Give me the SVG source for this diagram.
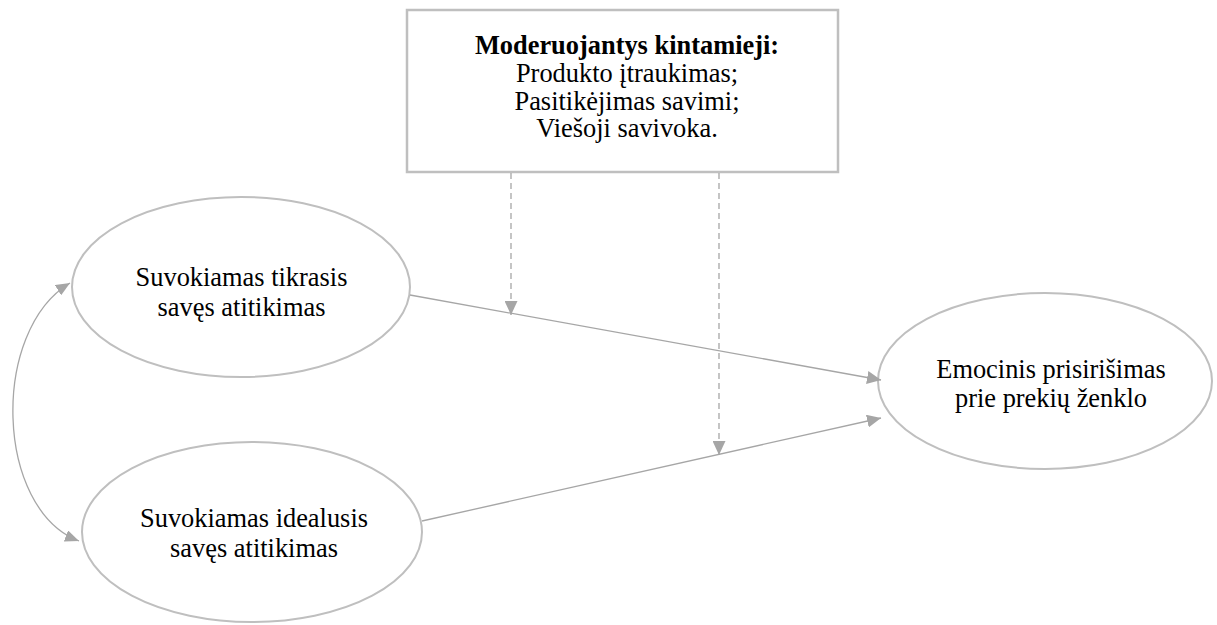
<svg xmlns="http://www.w3.org/2000/svg" width="1217" height="625" viewBox="0 0 1217 625">
  <defs>
    <marker id="arrow" viewBox="0 0 14 13" refX="14" refY="6.5" markerWidth="14" markerHeight="13" markerUnits="userSpaceOnUse" orient="auto-start-reverse">
      <path d="M0,0 L14,6.5 L0,13 Z" fill="#a6a6a6"/>
    </marker>
    <marker id="arrowSmall" viewBox="0 0 14 12" refX="14" refY="6" markerWidth="14" markerHeight="12" markerUnits="userSpaceOnUse" orient="auto-start-reverse">
      <path d="M0,0 L14,6 L0,12 Z" fill="#a6a6a6"/>
    </marker>
  </defs>
  <style>
    .node { fill: #ffffff; stroke: #bfbfbf; stroke-width: 2; }
    .box { fill: #ffffff; stroke: #bfbfbf; stroke-width: 2.5; }
    .label { font-family: "Liberation Serif", "Times New Roman", serif; font-size: 26.4px; fill: #000000; text-anchor: middle; }
    .bold { font-weight: bold; }
    .edge { fill: none; stroke: #a6a6a6; stroke-width: 1.3; }
    .dashed { stroke-dasharray: 6 4; }
  </style>

  <rect width="1217" height="625" fill="#ffffff"/>

  <!-- moderating variables box -->
  <g id="moderators">
    <rect class="box" x="407" y="10" width="431" height="162"/>
    <text class="label bold" x="627" y="54">Moderuojantys kintamieji:</text>
    <text class="label" x="627" y="82">Produkto įtraukimas;</text>
    <text class="label" x="627" y="109.5">Pasitikėjimas savimi;</text>
    <text class="label" x="627" y="137">Viešoji savivoka.</text>
  </g>

  <!-- actual self-congruity -->
  <g id="actual-self">
    <ellipse class="node" cx="241" cy="287" rx="169" ry="90"/>
    <text class="label" x="241.5" y="286">Suvokiamas tikrasis</text>
    <text class="label" x="241.5" y="316">savęs atitikimas</text>
  </g>

  <!-- ideal self-congruity -->
  <g id="ideal-self">
    <ellipse class="node" cx="252" cy="532" rx="170" ry="90"/>
    <text class="label" x="254" y="527">Suvokiamas idealusis</text>
    <text class="label" x="254" y="557">savęs atitikimas</text>
  </g>

  <!-- emotional brand attachment -->
  <g id="attachment">
    <ellipse class="node" cx="1045" cy="381" rx="167" ry="88"/>
    <text class="label" x="1051" y="378">Emocinis prisirišimas</text>
    <text class="label" x="1051" y="407">prie prekių ženklo</text>
  </g>

  <!-- connectors -->
  <g id="connectors">
    <line class="edge" x1="410" y1="295" x2="881" y2="380" marker-end="url(#arrow)"/>
    <line class="edge" x1="422" y1="521" x2="881" y2="418" marker-end="url(#arrow)"/>
    <line class="edge dashed" x1="511" y1="173" x2="511" y2="315" marker-end="url(#arrow)"/>
    <line class="edge dashed" x1="719" y1="173" x2="719" y2="455" marker-end="url(#arrow)"/>
    <path class="edge" d="M70,283 C-10,331 -5,509 79,541" marker-start="url(#arrowSmall)" marker-end="url(#arrowSmall)"/>
  </g>
</svg>
